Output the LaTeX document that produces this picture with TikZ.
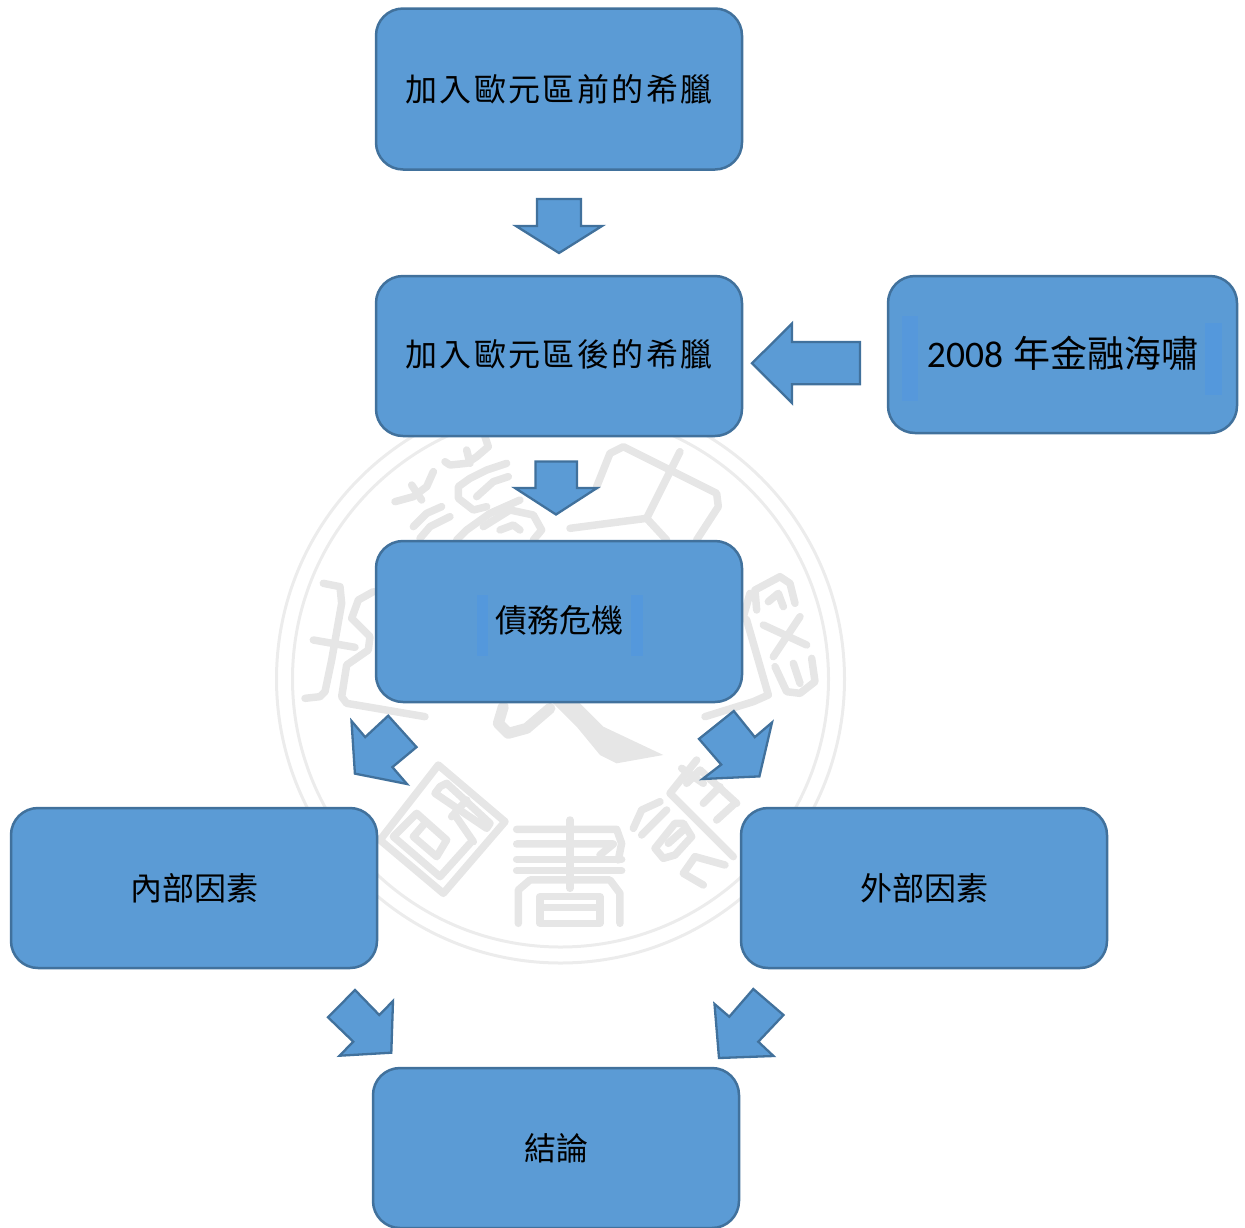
\documentclass[tikz,border=0pt]{standalone}
\usepackage{fontspec}
\setmainfont{Noto Sans CJK TC}
\newfontfamily\cjkwide[LetterSpace=7.5]{Noto Sans CJK TC}
\newfontfamily\digitfont{Carlito}
\definecolor{boxfill}{HTML}{5B9BD5}
\definecolor{boxline}{HTML}{41719C}
\definecolor{sealgray}{HTML}{E6E6E6}
\definecolor{ringgray}{HTML}{ECECEC}
\definecolor{stripblue}{HTML}{5498DC}
\definecolor{stripsoft}{HTML}{5698DB}
\tikzset{
  flowbox/.style={draw=boxline,fill=boxfill,line width=2.5pt,rounded corners=27pt,minimum width=366pt,minimum height=161pt,inner sep=0pt,text=black,font=\fontsize{32}{38}\selectfont},
  blockarrow/.style={draw=boxline,fill=boxfill,line width=2.3pt,line join=miter,miter limit=10},
  sealstroke/.style={draw=sealgray,line width=7.5pt,line cap=round,line join=round},
  sealring/.style={draw=ringgray,line width=3pt},
  strip/.style={fill=stripblue,draw=none},
  softstrip/.style={fill=stripsoft,draw=none}
}
\begin{document}
\begin{tikzpicture}[x=1pt,y=-1pt]
\useasboundingbox (0,0) rectangle (1245,1227);
% seal watermark
\draw[sealring] (560.5,679) circle (284);
\draw[sealring] (560.5,679) circle (268);
\begin{scope}[shift={(370,430)},x=0.3333pt,y=-0.3333pt]
  \draw[sealstroke] (345,20)--(355,50)--(320,80)--(290,100)--(240,105)--(225,95);
  \draw[sealstroke] (290,60)--(300,100);
  \draw[sealstroke] (190,125)--(170,170)--(130,200)--(75,215);
  \draw[sealstroke] (125,165)--(155,210);
  \draw[sealstroke] (410,100)--(350,120)--(300,145)--(265,170)--(265,205)--(310,240)--(350,230);
  \draw[sealstroke] (415,140)--(370,155)--(320,200);
  \draw[sealstroke] (215,230)--(170,250)--(130,290);
  \draw[sealstroke] (240,260)--(180,290)--(150,325);
  \draw[sealstroke] (450,210)--(360,250)--(290,300)--(260,330);
  \draw[sealstroke] (340,290)--(420,240)--(490,255)--(515,300)--(490,330);
  \draw[sealstroke] (390,300)--(430,285)--(450,300);
  \draw[sealstroke] (680,170)--(720,70)--(760,50)--(1040,190)--(1045,230)--(980,330);
  \draw[sealstroke] (930,65)--(830,265)--(890,330);
  \draw[sealstroke] (600,295)--(830,265);
\end{scope}
\begin{scope}[shift={(290,560)},x=0.3333pt,y=-0.3333pt]
  \draw[sealstroke] (100,70)--(150,80)--(155,130)--(125,300)--(105,395)--(90,410)--(45,415);
  \draw[sealstroke] (70,240)--(195,262);
  \draw[sealstroke] (250,95)--(205,120)--(185,175)--(240,230)--(235,270)--(170,315)--(155,410)--(170,430)--(405,470);
\end{scope}
\begin{scope}[shift={(700,560)},x=0.3333pt,y=-0.3333pt]
  \draw[sealstroke] (170,150)--(165,90)--(240,50)--(270,70)--(285,130);
  \draw[sealstroke] (205,125)--(235,100)--(250,140);
  \draw[sealstroke] (190,195)--(320,255);
  \draw[sealstroke] (300,170)--(220,290);
  \draw[sealstroke] (225,320)--(260,395)--(300,400)--(345,365)--(335,295);
  \draw[sealstroke] (280,310)--(300,370);
  \draw[sealstroke] (150,100)--(130,170)--(140,180)--(205,405)--(160,425)--(15,470);
\end{scope}
\begin{scope}[shift={(370,700)},x=0.3333pt,y=-0.3333pt]
  \draw[sealstroke,line width=11pt] (400,20)--(385,70)--(415,100)--(470,85)--(540,25);
  \fill[sealgray] (540,0)--(620,0)--(700,80)--(880,165)--(740,190)--(690,165)--(620,80)--cycle;
  \draw[sealstroke] (30,420)--(205,195)--(405,365)--(220,580)--cycle;
  \draw[sealstroke] (300,430)--(210,530)--(70,410)--(140,340)--(230,420)--(200,470)--(130,410)--(160,375);
  \draw[sealstroke] (210,260)--(195,280)--(350,385)--(360,370)--(230,250)--cycle;
  \draw[sealstroke] (255,345)--(310,425);
  \draw[sealstroke] (245,350)--(290,300);
  \draw[sealstroke] (440,388)--(740,388)--(755,430)--(745,480);
  \draw[sealstroke] (440,432)--(730,432)--(690,465);
  \draw[sealstroke] (440,478)--(755,478);
  \draw[sealstroke] (440,512)--(755,512);
  \draw[sealstroke] (600,360)--(600,565);
  \draw[sealstroke] (445,670)--(445,570)--(480,540)--(720,540)--(750,580)--(750,670);
  \draw[sealstroke] (510,590)--(690,590)--(690,670)--(510,670)--cycle;
  \draw[sealstroke] (510,622)--(690,622);
\end{scope}
\begin{scope}[shift={(620,740)},x=0.3333pt,y=-0.3333pt]
  \draw[sealstroke] (230,60)--(150,160)--(340,350);
  \draw[sealstroke] (185,85)--(250,130);
  \draw[sealstroke] (200,130)--(240,90)--(350,190);
  \draw[sealstroke] (250,190)--(300,140);
  \draw[sealstroke] (290,240)--(345,190);
  \draw[sealstroke] (120,185)--(65,210)--(40,265);
  \draw[sealstroke] (140,210)--(65,285);
  \draw[sealstroke] (165,250)--(105,325)--(130,355)--(165,345)--(215,290)--(190,250)--cycle;
  \draw[sealstroke] (145,310)--(190,270);
  \draw[sealstroke] (225,350)--(315,375);
  \draw[sealstroke] (225,350)--(190,400)--(250,435);
\end{scope}
% boxes
\node[flowbox] (before) at (559,89) {\raisebox{1pt}{\cjkwide 加入歐元區前的希臘}};
\node[flowbox,minimum height=160pt] (after) at (559,356) {};
\node[flowbox] (debt) at (559,621.5) {};
\node[flowbox,minimum height=160pt] (internal) at (194,888) {\raisebox{1pt}{內部因素}};
\node[flowbox,minimum height=160pt] (external) at (924,888) {\raisebox{1pt}{外部因素}};
\node[flowbox,minimum height=160pt] (conclusion) at (556,1148) {\raisebox{1pt}{結論}};
\node[flowbox,minimum width=349pt,minimum height=157pt] (crisis) at (1062.5,354.5) {};
% pale strips behind the text
\fill[strip] (477,595) rectangle (488,656);
\fill[strip] (631,595) rectangle (643,656);
\fill[softstrip] (902,316) rectangle (918,401);
\fill[strip] (1205,323) rectangle (1222,395);
% labels on boxes
\node[font=\fontsize{32}{38}\selectfont\cjkwide,text=black,inner sep=0pt] (afterlabel) at (after.center) [yshift=2pt] {加入歐元區後的希臘};
\node[font=\fontsize{32}{38}\selectfont,text=black,inner sep=0pt] (debtlabel) at (debt.center) [yshift=1pt] {債務危機};
\node[text=black,inner sep=0pt] (crisislabel) at (1062.5,353) {{\fontsize{37.5}{40}\selectfont\digitfont 2008}\hspace{10pt}{\fontsize{37}{40}\selectfont 年金融海嘯}};
% block arrows
\draw[blockarrow] (537,199)--(581,199)--(581,226)--(602,226)--(559,253)--(516,226)--(537,226)--cycle;
\draw[blockarrow] (535.5,461.5)--(577,461.5)--(577,488)--(597,488)--(556,514.5)--(515,488)--(535.5,488)--cycle;
\draw[blockarrow] (752,363.3)--(792,323.5)--(792,342)--(860,342)--(860,384.3)--(792,384.3)--(792,403)--cycle;
\draw[blockarrow] (351.5,721)--(365.2,737.1)--(388.2,715.7)--(416.5,747.1)--(392.4,767.1)--(407,784)--(354.9,773.6)--cycle;
\draw[blockarrow] (772,722.5)--(754.8,737.1)--(733.8,711)--(699,738.9)--(721.2,764.6)--(702.5,779)--(759.4,776.4)--cycle;
\draw[blockarrow] (355,990)--(379.3,1015)--(393,1001)--(391.3,1052.7)--(339.5,1055.7)--(353.3,1041.7)--(328,1017.3)--cycle;
\draw[blockarrow] (753.3,989)--(783.5,1015)--(758.3,1041.7)--(773.5,1056)--(719,1058)--(714.5,1004)--(729.3,1016.7)--cycle;
\end{tikzpicture}
\end{document}
